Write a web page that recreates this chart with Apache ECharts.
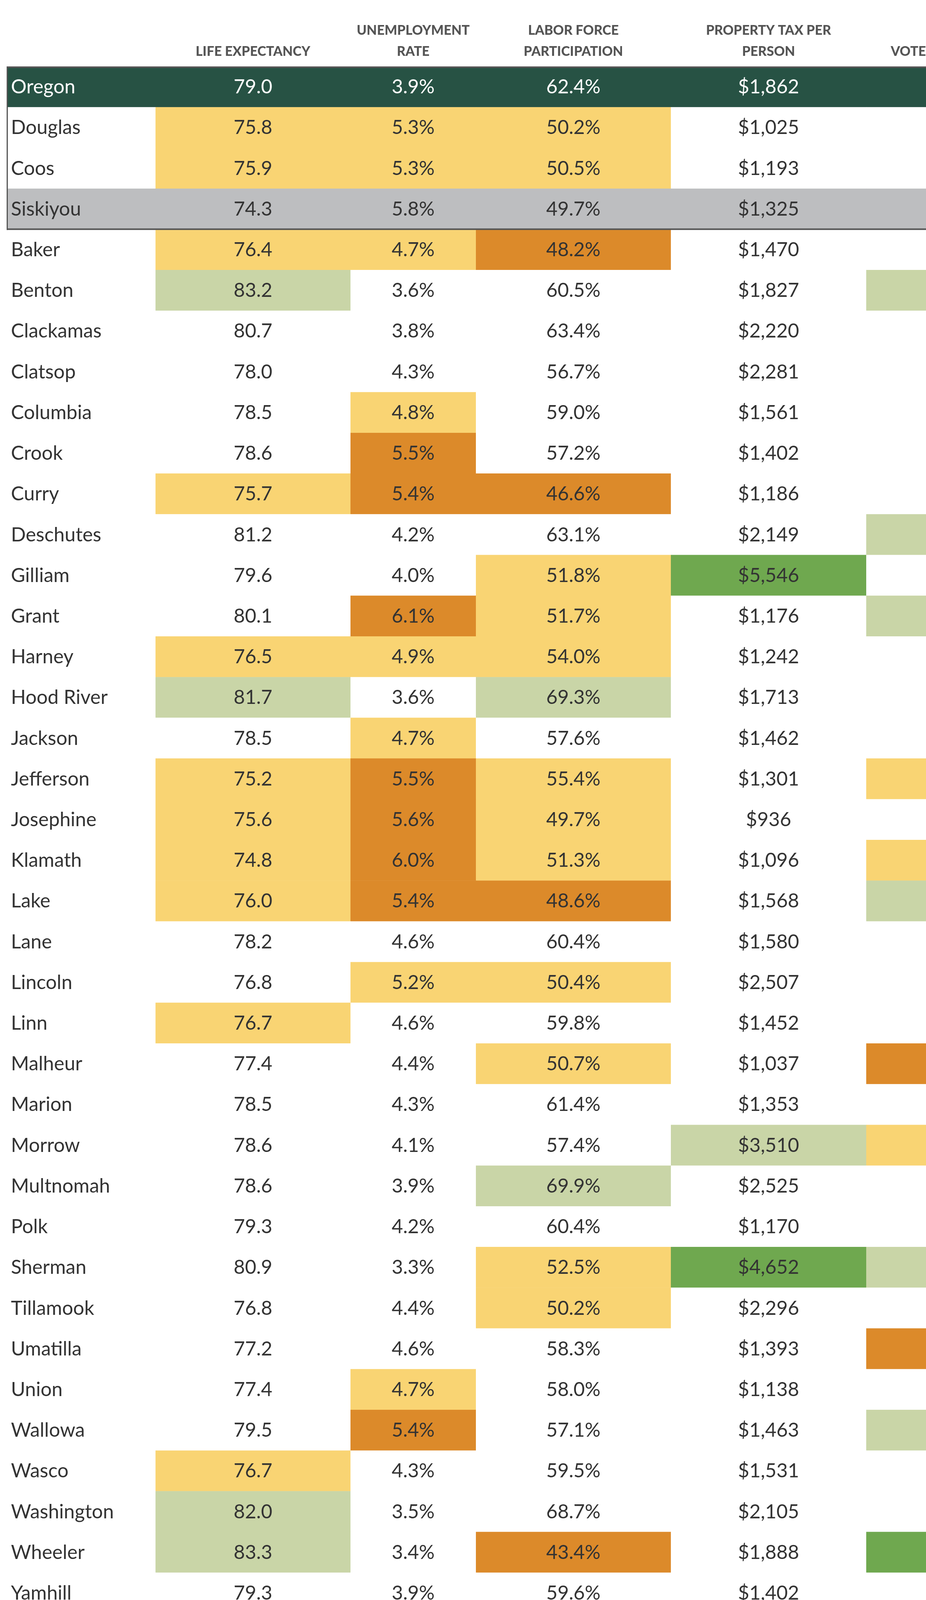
<!DOCTYPE html>
<html>
<head>
<meta charset="utf-8">
<script src="https://cdn.jsdelivr.net/npm/echarts@6/dist/echarts.min.js"></script>
<style>
  html, body { margin: 0; padding: 0; background: #fff; }
  #chart { width: 2370px; height: 4200px; }
</style>
</head>
<body>
<div id="chart"></div>
<script>
// rows: state, two neighbour counties, California comparison, then Oregon counties
var rows = ['Oregon', 'Douglas', 'Coos', 'Siskiyou', 'Baker', 'Benton', 'Clackamas', 'Clatsop',
  'Columbia', 'Crook', 'Curry', 'Deschutes', 'Gilliam', 'Grant', 'Harney', 'Hood River',
  'Jackson', 'Jefferson', 'Josephine', 'Klamath', 'Lake', 'Lane', 'Lincoln', 'Linn',
  'Malheur', 'Marion', 'Morrow', 'Multnomah', 'Polk', 'Sherman', 'Tillamook', 'Umatilla',
  'Union', 'Wallowa', 'Wasco', 'Washington', 'Wheeler', 'Yamhill'];

var headers = ['', 'LIFE EXPECTANCY', 'UNEMPLOYMENT\nRATE', 'LABOR FORCE\nPARTICIPATION',
  'PROPERTY TAX PER\nPERSON', 'VOTER PARTICIPATION'];

var lifeExp = [79.0, 75.8, 75.9, 74.3, 76.4, 83.2, 80.7, 78.0, 78.5, 78.6, 75.7, 81.2, 79.6, 80.1,
  76.5, 81.7, 78.5, 75.2, 75.6, 74.8, 76.0, 78.2, 76.8, 76.7, 77.4, 78.5, 78.6, 78.6, 79.3,
  80.9, 76.8, 77.2, 77.4, 79.5, 76.7, 82.0, 83.3, 79.3];
var unemp = [3.9, 5.3, 5.3, 5.8, 4.7, 3.6, 3.8, 4.3, 4.8, 5.5, 5.4, 4.2, 4.0, 6.1, 4.9, 3.6, 4.7,
  5.5, 5.6, 6.0, 5.4, 4.6, 5.2, 4.6, 4.4, 4.3, 4.1, 3.9, 4.2, 3.3, 4.4, 4.6, 4.7, 5.4, 4.3,
  3.5, 3.4, 3.9];
var laborForce = [62.4, 50.2, 50.5, 49.7, 48.2, 60.5, 63.4, 56.7, 59.0, 57.2, 46.6, 63.1, 51.8,
  51.7, 54.0, 69.3, 57.6, 55.4, 49.7, 51.3, 48.6, 60.4, 50.4, 59.8, 50.7, 61.4, 57.4, 69.9,
  60.4, 52.5, 50.2, 58.3, 58.0, 57.1, 59.5, 68.7, 43.4, 59.6];
var propTax = [1862, 1025, 1193, 1325, 1470, 1827, 2220, 2281, 1561, 1402, 1186, 2149, 5546,
  1176, 1242, 1713, 1462, 1301, 936, 1096, 1568, 1580, 2507, 1452, 1037, 1353, 3510, 2525,
  1170, 4652, 2296, 1393, 1138, 1463, 1531, 2105, 1888, 1402];

// shading class per cell: 0 none, 1 yellow, 2 orange, 3 light green, 4 green
var lifeTier = [0, 1, 1, 0, 1, 3, 0, 0, 0, 0, 1, 0, 0, 0, 1, 3, 0, 1, 1, 1, 1, 0, 0, 1, 0, 0, 0,
  0, 0, 0, 0, 0, 0, 0, 1, 3, 3, 0];
var unempTier = [0, 1, 1, 0, 1, 0, 0, 0, 1, 2, 2, 0, 0, 2, 1, 0, 1, 2, 2, 2, 2, 0, 1, 0, 0, 0, 0,
  0, 0, 0, 0, 0, 1, 2, 0, 0, 0, 0];
var laborTier = [0, 1, 1, 0, 2, 0, 0, 0, 0, 0, 2, 0, 1, 1, 1, 3, 0, 1, 1, 1, 2, 0, 1, 0, 1, 0, 0,
  3, 0, 1, 1, 0, 0, 0, 0, 0, 2, 0];
var taxTier = [0, 0, 0, 0, 0, 0, 0, 0, 0, 0, 0, 0, 4, 0, 0, 0, 0, 0, 0, 0, 0, 0, 0, 0, 0, 0, 3, 0,
  0, 4, 0, 0, 0, 0, 0, 0, 0, 0];
var voteTier = [0, 0, 0, 0, 0, 3, 0, 0, 0, 0, 0, 3, 0, 3, 0, 0, 0, 1, 0, 1, 3, 0, 0, 0, 2, 0, 1, 0,
  0, 3, 0, 2, 0, 3, 0, 0, 4, 0];

// layout (pixel units on the hidden x axis)
var colEdges = [17, 398, 897, 1218, 1717, 2217, 2717];
var tierColors = ['#ffffff', '#f9d473', '#dc8a2a', '#c9d5a7', '#6fa84f'];
var rowFill = { 0: '#275244', 3: '#bdbec0' };
var FONT = '"Lato", "Open Sans", sans-serif';

function money(v) {
  return '$' + v.toLocaleString('en-US');
}

var cells = [];
for (var r = 0; r < rows.length; r++) {
  cells.push([0, r, 0, rows[r]]);
  cells.push([1, r, lifeTier[r], lifeExp[r].toFixed(1)]);
  cells.push([2, r, unempTier[r], unemp[r].toFixed(1) + '%']);
  cells.push([3, r, laborTier[r], laborForce[r].toFixed(1) + '%']);
  cells.push([4, r, taxTier[r], money(propTax[r])]);
  cells.push([5, r, voteTier[r], '']);
}

function renderCell(params, api) {
  var c = api.value(0), r = api.value(1), tier = api.value(2);
  var label = cells[params.dataIndex][3];
  var yc = api.coord([colEdges[0], r])[1];
  var h = api.size([0, 1])[1];
  var x0 = api.coord([colEdges[c], r])[0];
  var x1 = api.coord([colEdges[c + 1], r])[0];
  var fill = rowFill[r] || tierColors[tier];
  var txtColor = r === 0 ? '#ffffff' : '#333333';
  var children = [{
    type: 'rect',
    shape: { x: x0, y: yc - h / 2, width: x1 - x0 + 0.5, height: h + 0.5 },
    style: { fill: fill }
  }];
  if (label) {
    children.push({
      type: 'text',
      style: {
        text: label,
        x: c === 0 ? x0 + 11 : (x0 + x1) / 2,
        y: yc + 1,
        align: c === 0 ? 'left' : 'center',
        verticalAlign: 'middle',
        font: '50px ' + FONT,
        fill: txtColor
      }
    });
  }
  return { type: 'group', children: children };
}

// frame round the comparison block (rows 0..3)
function renderFrame(params, api) {
  var top = api.coord([colEdges[0], 0])[1] - api.size([0, 1])[1] / 2;
  var bottom = api.coord([colEdges[0], 3])[1] + api.size([0, 1])[1] / 2;
  var left = api.coord([colEdges[0], 0])[0];
  var right = api.coord([colEdges[6], 0])[0];
  var st = { stroke: '#555555', lineWidth: 4 };
  return {
    type: 'group',
    children: [
      { type: 'line', shape: { x1: left, y1: top + 2, x2: right, y2: top + 2 }, style: st },
      { type: 'line', shape: { x1: left, y1: bottom, x2: right, y2: bottom }, style: st },
      { type: 'line', shape: { x1: left + 1.5, y1: top, x2: left + 1.5, y2: bottom + 2 },
        style: { stroke: '#555555', lineWidth: 3 } }
    ]
  };
}

var headerGraphics = [];
for (var i = 1; i < headers.length; i++) {
  headerGraphics.push({
    type: 'text',
    x: (colEdges[i] + colEdges[i + 1]) / 2,
    y: 159,
    style: {
      text: headers[i],
      align: 'center',
      verticalAlign: 'bottom',
      lineHeight: 54,
      font: '900 34px ' + FONT,
      fill: '#555555'
    }
  });
}

var chart = echarts.init(document.getElementById('chart'), null, { renderer: 'canvas' });
chart.setOption({
  backgroundColor: '#ffffff',
  animation: false,
  grid: { left: 0, right: 0, top: 170, bottom: 70 },
  xAxis: { type: 'value', min: 0, max: 2370, show: false },
  yAxis: { type: 'category', data: rows, inverse: true, show: false },
  graphic: headerGraphics,
  series: [
    {
      type: 'custom',
      renderItem: renderCell,
      data: cells,
      clip: false,
      silent: true
    },
    {
      type: 'custom',
      renderItem: renderFrame,
      data: [[0, 0]],
      clip: false,
      silent: true,
      z: 5
    }
  ]
});
</script>
</body>
</html>
